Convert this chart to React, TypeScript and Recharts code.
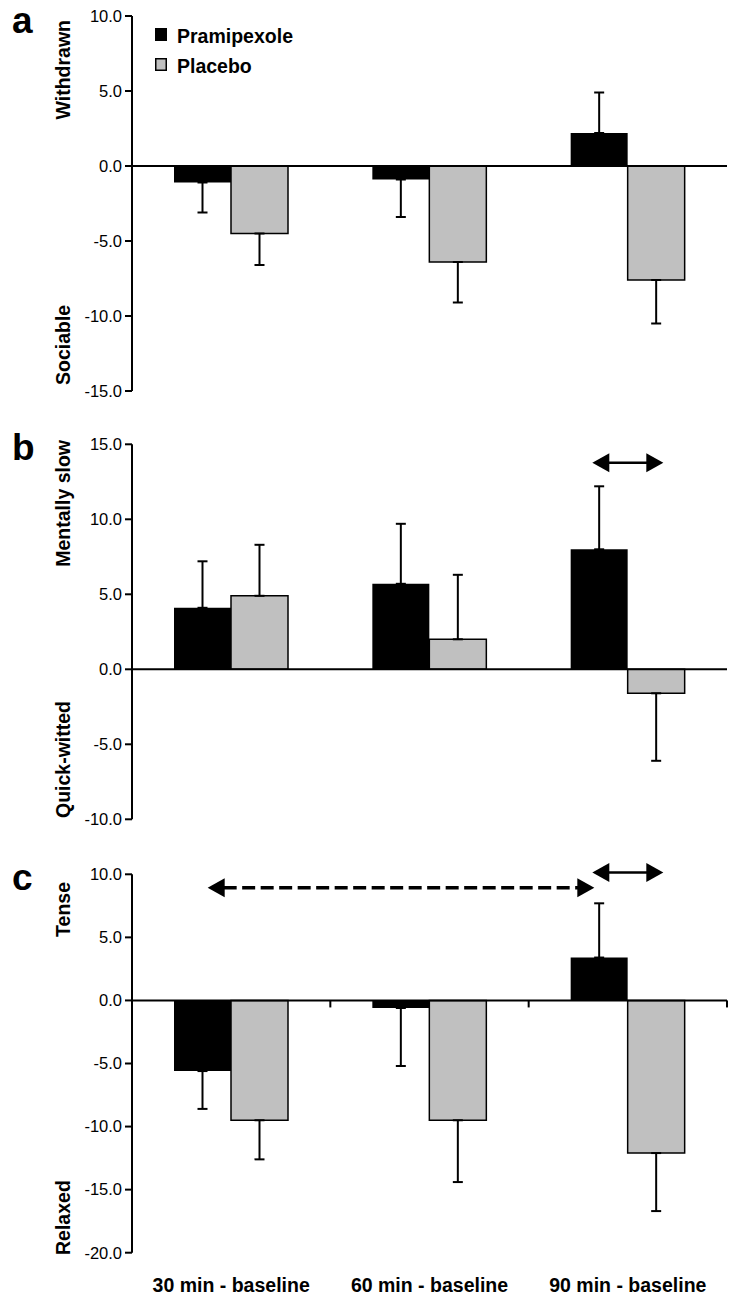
import React from "react";
import { BarChart, Bar, XAxis, YAxis, ErrorBar, ReferenceLine, Legend } from "recharts";

const categories = ["30 min - baseline", "60 min - baseline", "90 min - baseline"];

// a: Withdrawn / Sociable
const pramA = [-1.1, -0.9, 2.2];
const pramErrA = [2.0, 2.5, 2.7];
const placA = [-4.5, -6.4, -7.6];
const placErrA = [2.1, 2.7, 2.9];
const ticksA = [-15, -10, -5, 0, 5, 10];

// b: Mentally slow / Quick-witted
const pramB = [4.1, 5.7, 8.0];
const pramErrB = [3.1, 4.0, 4.2];
const placB = [4.9, 2.0, -1.6];
const placErrB = [3.4, 4.3, 4.5];
const ticksB = [-10, -5, 0, 5, 10, 15];

// c: Tense / Relaxed
const pramC = [-5.6, -0.6, 3.4];
const pramErrC = [3.0, 4.6, 4.3];
const placC = [-9.5, -9.5, -12.1];
const placErrC = [3.1, 4.9, 4.6];
const ticksC = [-20, -15, -10, -5, 0, 5, 10];

// significance arrows: which bars they join, and at what level
type Arrow = { from: number; fromKey: string; to: number; toKey: string; y: number; dashed: boolean };
const arrowsB: Arrow[] = [{ from: 2, fromKey: "pram", to: 2, toKey: "plac", y: 13.77, dashed: false }];
const arrowsC: Arrow[] = [
  { from: 0, fromKey: "pram", to: 2, toKey: "pram", y: 8.94, dashed: true },
  { from: 2, fromKey: "pram", to: 2, toKey: "plac", y: 10.15, dashed: false },
];

const FONT = "'Liberation Sans', Arial, sans-serif";
const CHART_W = 750;
const Y_W = 132;
const RIGHT = 23;
const BAR = 57;
const BAND = (CHART_W - Y_W - RIGHT) / categories.length;
const CAT_H = 40;

// error goes away from zero only
const errRange = (mean: number, e: number) => (mean < 0 ? [e, 0] : [0, e]);

const buildRows = (pram: number[], pramErr: number[], plac: number[], placErr: number[]) =>
  categories.map((name, i) => ({
    name,
    pram: pram[i],
    pramErr: errRange(pram[i], pramErr[i]),
    plac: plac[i],
    placErr: errRange(plac[i], placErr[i]),
  }));

// category tick: small mark hanging from the zero line at the group's right edge, plus label
const makeCategoryTick = (zeroY: number, labelY: number | null) => (t: any) => {
  const cx = Number(t.x ?? t.payload?.coordinate);
  const edge = cx + BAND / 2;
  return (
    <g>
      <rect x={edge - 1} y={zeroY} width={2} height={7} fill="#000" stroke="none" />
      {labelY !== null && (
        <text
          x={cx}
          y={labelY}
          textAnchor="middle"
          fontFamily={FONT}
          fontSize={19.5}
          fontWeight="bold"
          fill="#000"
        >
          {t.payload.value}
        </text>
      )}
    </g>
  );
};

const makeArrow = (a: Arrow) => (props: any) => {
  const side = (k: string) => (k === "pram" ? -BAR / 2 : BAR / 2);
  const pad = a.dashed ? -5 : 7;
  const xa = props.x1 + side(a.fromKey) - pad;
  const xb = props.x2 + side(a.toKey) + pad;
  const y = props.y1;
  const head = 17;
  const half = 9.5;
  return (
    <g>
      <line
        x1={xa + head - 1}
        y1={y}
        x2={xb - head + 1}
        y2={y}
        stroke="#000"
        strokeWidth={a.dashed ? 3.5 : 2.5}
        strokeDasharray={a.dashed ? "13 5.5" : undefined}
      />
      <polygon points={`${xa},${y} ${xa + head},${y - half} ${xa + head},${y + half}`} fill="#000" />
      <polygon points={`${xb},${y} ${xb - head},${y - half} ${xb - head},${y + half}`} fill="#000" />
    </g>
  );
};

const LegendBox = () => (
  <svg width={200} height={64} style={{ display: "block" }}>
    <rect x={5} y={8} width={12} height={13} fill="#000" />
    <text x={27} y={23} fontFamily={FONT} fontSize={19.5} fontWeight="bold" fill="#000">
      Pramipexole
    </text>
    <rect x={5.75} y={38.75} width={10.5} height={11.5} fill="#C0C0C0" stroke="#000" strokeWidth={1.5} />
    <text x={27} y={53} fontFamily={FONT} fontSize={19.5} fontWeight="bold" fill="#000">
      Placebo
    </text>
  </svg>
);

interface PanelProps {
  top: number;
  height: number;
  mt: number;
  mb: number;
  rows: any[];
  ticks: number[];
  letter: string;
  letterY: number;
  upLabel: string;
  upY: number;
  downLabel: string;
  downY: number;
  arrows?: Arrow[];
  showLegend?: boolean;
  showCategories?: boolean;
}

const Panel = (p: PanelProps) => {
  const lo = p.ticks[0];
  const hi = p.ticks[p.ticks.length - 1];
  const catH = p.showCategories ? CAT_H : 0;
  const plotBottom = p.height - p.mb - catH;
  const zeroY = p.mt + (hi / (hi - lo)) * (plotBottom - p.mt);
  const labelY = p.showCategories ? plotBottom + 39.5 : null;
  return (
    <div style={{ position: "absolute", left: 0, top: p.top }}>
      <BarChart
        width={CHART_W}
        height={p.height}
        data={p.rows}
        margin={{ top: p.mt, right: RIGHT, bottom: p.mb, left: 0 }}
        barGap={0}
        barSize={BAR}
      >
        <XAxis
          dataKey="name"
          height={catH}
          axisLine={false}
          tickLine={false}
          interval={0}
          tick={makeCategoryTick(zeroY, labelY)}
        />
        <YAxis
          type="number"
          domain={[lo, hi]}
          ticks={p.ticks}
          interval={0}
          width={Y_W}
          allowDataOverflow
          tickFormatter={(v: number) => v.toFixed(1)}
          tick={{ fill: "#000", fontSize: 16.5, fontFamily: FONT }}
          tickSize={7}
          tickMargin={3}
          axisLine={{ stroke: "#000", strokeWidth: 2 }}
          tickLine={{ stroke: "#000", strokeWidth: 2 }}
          label={{
            content: () => (
              <g fontFamily={FONT} fontWeight="bold" fill="#000">
                <text x={12} y={p.letterY} fontSize={37}>
                  {p.letter}
                </text>
                <text transform={`translate(70, ${p.upY}) rotate(-90)`} textAnchor="end" fontSize={19.5}>
                  {p.upLabel}
                </text>
                <text transform={`translate(70, ${p.downY}) rotate(-90)`} textAnchor="start" fontSize={19.5}>
                  {p.downLabel}
                </text>
              </g>
            ),
          }}
        />
        {p.showLegend && (
          <Legend
            layout="horizontal"
            verticalAlign="middle"
            align="center"
            wrapperStyle={{ top: 20, left: 150, width: 200, height: 64 }}
            content={() => <LegendBox />}
          />
        )}
        <Bar dataKey="pram" fill="#000" isAnimationActive={false}>
          <ErrorBar dataKey="pramErr" direction="y" width={5} stroke="#000" strokeWidth={2} />
        </Bar>
        <Bar dataKey="plac" fill="#C0C0C0" stroke="#000" strokeWidth={1.5} isAnimationActive={false}>
          <ErrorBar dataKey="placErr" direction="y" width={5} stroke="#000" strokeWidth={2} />
        </Bar>
        <ReferenceLine y={0} stroke="#000" strokeWidth={2} />
        {(p.arrows || []).map((a, i) => (
          <ReferenceLine
            key={`arr${i}`}
            segment={[
              { x: categories[a.from], y: a.y },
              { x: categories[a.to], y: a.y },
            ]}
            ifOverflow="visible"
            shape={makeArrow(a)}
          />
        ))}
      </BarChart>
    </div>
  );
};

export default function App() {
  return (
    <div style={{ position: "absolute", left: 0, top: 0, width: 750, height: 1310, background: "#fff" }}>
      <Panel
        top={0}
        height={420}
        mt={16}
        mb={29}
        rows={buildRows(pramA, pramErrA, placA, placErrA)}
        ticks={ticksA}
        letter="a"
        letterY={33}
        upLabel="Withdrawn"
        upY={20}
        downLabel="Sociable"
        downY={385}
        showLegend
      />
      <Panel
        top={420}
        height={420}
        mt={24.3}
        mb={20.7}
        rows={buildRows(pramB, pramErrB, placB, placErrB)}
        ticks={ticksB}
        letter="b"
        letterY={40}
        upLabel="Mentally slow"
        upY={20}
        downLabel="Quick-witted"
        downY={398}
        arrows={arrowsB}
      />
      <Panel
        top={840}
        height={470}
        mt={34.3}
        mb={17.3}
        rows={buildRows(pramC, pramErrC, placC, placErrC)}
        ticks={ticksC}
        letter="c"
        letterY={50}
        upLabel="Tense"
        upY={42}
        downLabel="Relaxed"
        downY={415}
        arrows={arrowsC}
        showCategories
      />
    </div>
  );
}
